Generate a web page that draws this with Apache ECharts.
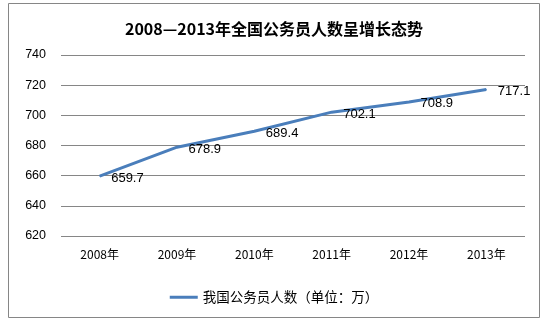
<!DOCTYPE html>
<html><head><meta charset="utf-8">
<script src="https://cdn.jsdelivr.net/npm/echarts@6/dist/echarts.min.js"></script>
<style>html,body{margin:0;padding:0;background:#fff}#c{width:548px;height:325px}</style>
</head><body><div id="c"></div>
<script>
const categories = ['2008年','2009年','2010年','2011年','2012年','2013年'];
const values = [659.7, 678.9, 689.4, 702.1, 708.9, 717.1];
const seriesName = '我国公务员人数（单位：万）';
const titleText = '2008—2013年全国公务员人数呈增长态势';
const yMin = 620, yMax = 740, yStep = 20;

const chart = echarts.init(document.getElementById('c'));
chart.setOption({
  animation: false,
  backgroundColor: '#fff',
  graphic: [{type:'rect', shape:{x:8.5,y:3.5,width:531,height:314}, style:{fill:'none', stroke:'#868686', lineWidth:1}}],
  title: {text: titleText, left: 'center', top: 16,
    textStyle: {fontFamily:'"Noto Sans CJK SC", sans-serif', fontSize: 16, fontWeight: 'bold', color:'#000'}},
  legend: {bottom: 16, left: 'center', itemWidth: 28, itemHeight: 3, icon: 'rect', itemGap: 6,
    textStyle: {fontFamily:'"Noto Sans CJK SC", sans-serif', fontSize: 13.5, color:'#000'}},
  grid: {left: 61, right: 23, top: 55, bottom: 89},
  xAxis: {type:'category', data: categories, boundaryGap: true,
    axisLine:{show:false}, axisTick:{show:false},
    axisLabel:{fontFamily:'"Noto Sans CJK SC", sans-serif', fontSize: 12, color:'#000', margin: 12}},
  yAxis: {type:'value', min: yMin, max: yMax, interval: yStep,
    axisLine:{show:false}, axisTick:{show:false},
    axisLabel:{fontFamily:'"Liberation Sans", sans-serif', fontSize: 12.5, color:'#000', margin: 15},
    splitLine:{lineStyle:{color:'#868686', width:1}}},
  series: [{name: seriesName, type:'line', data: values, symbol:'circle', symbolSize: 1, showSymbol: true,
    lineStyle:{color:'#4A7EBB', width:3}, itemStyle:{color:'#4A7EBB'},
    label:{show:true, position:'right', distance: 11, offset:[0,2], fontFamily:'"Liberation Sans", sans-serif', fontSize: 13, color:'#000', formatter: p => p.value.toFixed(1)}}]
});
</script></body></html>
